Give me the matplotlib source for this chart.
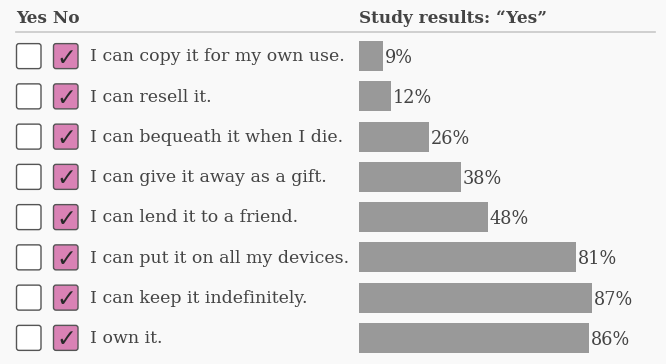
import matplotlib
matplotlib.use("Agg")
import matplotlib.pyplot as plt
from matplotlib.patches import FancyBboxPatch

statements = [
    "I can copy it for my own use.",
    "I can resell it.",
    "I can bequeath it when I die.",
    "I can give it away as a gift.",
    "I can lend it to a friend.",
    "I can put it on all my devices.",
    "I can keep it indefinitely.",
    "I own it.",
]
yes_pct = [9, 12, 26, 38, 48, 81, 87, 86]

W, H, DPI = 666, 364, 100
BG = "#f9f9f9"
TXT = "#444444"
FONT = "DejaVu Serif"

fig = plt.figure(figsize=(W / DPI, H / DPI), dpi=DPI, facecolor=BG)

top_px, bot_px = 36, 358
ax_b = (H - bot_px) / H
ax_h = (bot_px - top_px) / H
bar_left_px = 359
px_per_pct = 2.68

# bar axes
axb = fig.add_axes([bar_left_px / W, ax_b, (W - bar_left_px) / W, ax_h])
axb.set_facecolor("none")
axb.set_xlim(0, (W - bar_left_px) / px_per_pct)
axb.set_ylim(len(yes_pct) - 0.5, -0.5)
axb.axis("off")
ys = list(range(len(yes_pct)))
axb.barh(ys, yes_pct, height=0.745, color="#999999", left=0)
for y, v in zip(ys, yes_pct):
    axb.text(v + 0.7, y + 0.05, f"{v}%", ha="left", va="center",
             fontsize=12.7, color=TXT, family=FONT)

# left axes (checkboxes + statements), pixel x coords
axl = fig.add_axes([0, ax_b, bar_left_px / W, ax_h])
axl.set_facecolor("none")
axl.set_xlim(0, bar_left_px)
axl.set_ylim(len(yes_pct) - 0.5, -0.5)
axl.axis("off")
box_h = 25 / 40.25
for y, s in zip(ys, statements):
    axl.add_patch(FancyBboxPatch((16.5, y - box_h / 2), 24.5, box_h,
                                 boxstyle="round,pad=0,rounding_size=2.5",
                                 mutation_aspect=1 / 40.25,
                                 facecolor="white", edgecolor="#555555", lw=1.0))
    axl.add_patch(FancyBboxPatch((53.5, y - box_h / 2), 24.5, box_h,
                                 boxstyle="round,pad=0,rounding_size=2.5",
                                 mutation_aspect=1 / 40.25,
                                 facecolor="#d982b5", edgecolor="#555555", lw=1.0))
    axl.text(66, y + 0.04, "✓", ha="center", va="center", fontsize=17,
             color="#2a2a2a", family="DejaVu Sans")
    axl.text(90, y + 0.02, s, ha="left", va="center", fontsize=12.5,
             color=TXT, family=FONT)

# headers
fig.text(16 / W, 1 - 23 / H, "Yes No", ha="left", va="baseline",
         fontsize=12.2, fontweight="bold", color=TXT, family=FONT)
fig.text(359 / W, 1 - 23 / H, "Study results: \u201cYes\u201d", ha="left",
         va="baseline", fontsize=12.2, fontweight="bold", color=TXT, family=FONT)
fig.add_artist(plt.Line2D([16 / W, 655 / W], [1 - 31.5 / H, 1 - 31.5 / H],
                          color="#c8c8c8", lw=1.2))

fig.savefig("out.png", dpi=DPI, facecolor=BG)
